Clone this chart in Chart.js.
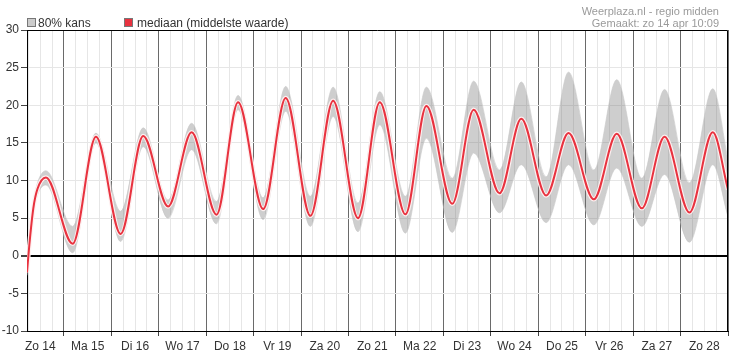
<!DOCTYPE html>
<html>
<head>
<meta charset="utf-8">
<script src="https://cdn.jsdelivr.net/npm/chart.js@4"></script>
<style>
  html, body { margin: 0; padding: 0; background: #fff; }
  #wrap { position: relative; width: 741px; height: 362px; font-family: "Liberation Sans", Arial, sans-serif; }
  canvas { position: absolute; left: 0; top: 0; }
  .lg { position: absolute; font-size: 12px; color: #333; line-height: 14px; white-space: nowrap; }
  .box { position: absolute; width: 7px; height: 7px; border: 1px solid #777; }
  .src { position: absolute; right: 22px; font-size: 11px; color: #9a9a9a; line-height: 11px; text-align: right; white-space: nowrap; }
</style>
</head>
<body>
<div id="wrap">
  <canvas id="c" width="741" height="362"></canvas>
  <div class="box" style="left:27px;top:18px;background:#cccccc;"></div>
  <div class="lg" style="left:38px;top:16px;">80% kans</div>
  <div class="box" style="left:124px;top:18px;background:#e8323f;"></div>
  <div class="lg" style="left:137px;top:16px;">mediaan (middelste waarde)</div>
  <div class="src" style="top:6px;">Weerplaza.nl - regio midden</div>
  <div class="src" style="top:18px;">Gemaakt: zo 14 apr 10:09</div>
</div>
<script>
// hours since 00:00 on Zo 14
const hours  = [5.3, 6.5, 8.5, 10.5, 14.9, 28.4, 40.2, 52.7, 64.1, 76.7, 88.6, 101.2, 112.1, 124.8, 136.2, 148.7, 160.2, 172.8, 183.8, 196.8, 207.4, 220.5, 231.3, 244.4, 255.4, 268, 279.3, 292.1, 303.7, 316.4, 327.9, 340.5, 352.3, 360];
const median = [-2.2, 1.5, 6.3, 8.8, 10.4, 1.6, 15.8, 2.9, 15.9, 6.55, 16.4, 5.45, 20.4, 6.2, 20.95, 5.3, 20.6, 5.0, 20.4, 5.5, 19.9, 6.9, 19.4, 8.3, 18.2, 8.0, 16.3, 7.5, 16.2, 6.3, 15.8, 5.75, 16.4, 8.8];
const upper  = [-1.8, 2.2, 7.0, 9.6, 11.3, 3.9, 16.3, 5.9, 17.0, 7.4, 17.6, 7.2, 21.3, 7.7, 22.5, 7.9, 22.4, 7.0, 21.8, 7.9, 22.4, 10.3, 23.2, 11.4, 23.1, 10.5, 24.4, 11.4, 23.4, 10.3, 22.1, 9.7, 22.2, 12.8];
const lower  = [-2.6, 0.8, 5.6, 8.0, 9.4, 0.4, 15.0, 1.9, 14.5, 5.0, 14.1, 4.25, 19.4, 4.8, 19.2, 3.9, 18.5, 3.2, 17.4, 3.0, 15.6, 3.1, 13.65, 5.7, 12.1, 4.4, 12.1, 4.1, 11.65, 3.9, 10.8, 1.8, 12.1, 5.2];
const dayLabels = ['Zo 14','Ma 15','Di 16','Wo 17','Do 18','Vr 19','Za 20','Zo 21','Ma 22','Di 23','Wo 24','Do 25','Vr 26','Za 27','Zo 28'];
const yTicks = [-10, -5, 0, 5, 10, 15, 20, 25, 30];

const pts = arr => hours.map((h, i) => ({x: h, y: arr[i]}));
const xTickValues = [];
for (let h = 6; h <= 360; h += 6) xTickValues.push(h);

const FONT = {family: '"Liberation Sans", Arial, sans-serif', size: 12};

const borderPlugin = {
  id: 'border',
  afterDraw(chart) {
    const a = chart.chartArea, ctx = chart.ctx;
    ctx.save();
    ctx.strokeStyle = '#000';
    ctx.lineWidth = 1;
    ctx.beginPath();
    ctx.moveTo(Math.round(a.left) + 0.5, Math.round(a.top) + 0.5);
    ctx.lineTo(Math.round(a.right) - 0.5, Math.round(a.top) + 0.5);
    ctx.lineTo(Math.round(a.right) - 0.5, Math.round(a.bottom) + 0.5);
    ctx.stroke();
    ctx.restore();
  }
};

new Chart(document.getElementById('c'), {
  type: 'line',
  data: {
    datasets: [
      { data: pts(upper), order: 4, borderColor: 'rgba(200,200,200,0.6)', borderWidth: 1, backgroundColor: 'rgba(110,110,110,0.34)', fill: '+1', pointRadius: 0, cubicInterpolationMode: 'monotone' },
      { data: pts(lower), order: 3, borderColor: 'rgba(200,200,200,0.6)', borderWidth: 1, fill: false, pointRadius: 0, cubicInterpolationMode: 'monotone' },
      { data: pts(median), order: 2, borderColor: 'rgba(255,240,240,0.95)', borderWidth: 4.5, fill: false, pointRadius: 0, cubicInterpolationMode: 'monotone' },
      { data: pts(median), order: 1, borderColor: '#e8323f', borderWidth: 2, fill: false, pointRadius: 0, cubicInterpolationMode: 'monotone' }
    ]
  },
  options: {
    responsive: false,
    animation: false,
    events: [],
    layout: { padding: { left: 0, top: 30, right: 13, bottom: 0 } },
    plugins: { legend: { display: false }, tooltip: { enabled: false } },
    scales: {
      x: {
        type: 'linear',
        min: 5.3, max: 360,
        afterBuildTicks: s => { s.ticks = xTickValues.map(v => ({value: v})); },
        afterFit: s => { s.height = 31; },
        border: { display: true, color: '#000', width: 1 },
        grid: {
          color: c => (c.tick && c.tick.value % 24 === 0) ? '#6a6a6a' : '#e6e6e6',
          tickColor: c => (c.tick && c.tick.value % 24 === 0) ? '#444' : 'rgba(0,0,0,0)',
          tickLength: 5,
          drawTicks: true
        },
        ticks: {
          autoSkip: false, maxRotation: 0, minRotation: 0,
          color: '#333', font: FONT, padding: 3,
          callback: v => (v % 24 === 12) ? dayLabels[(v - 12) / 24] : ''
        }
      },
      y: {
        min: -10, max: 30,
        afterBuildTicks: s => { s.ticks = yTicks.map(v => ({value: v})); },
        afterFit: s => { s.width = 27; },
        border: { display: true, color: '#000', width: 1 },
        grid: {
          color: c => (c.tick && c.tick.value === 0) ? '#000' : '#e6e6e6',
          lineWidth: c => (c.tick && c.tick.value === 0) ? 2 : 1,
          tickColor: '#444',
          tickLength: 6
        },
        ticks: { color: '#333', font: FONT, padding: 2 }
      }
    }
  },
  plugins: [borderPlugin]
});
</script>
</body>
</html>
